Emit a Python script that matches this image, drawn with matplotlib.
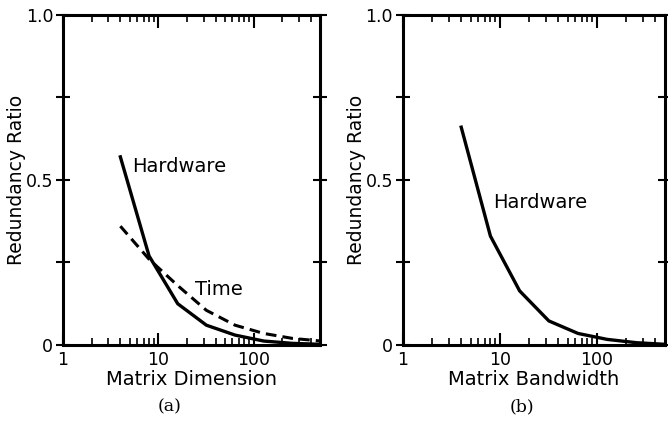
import numpy as np
import matplotlib
matplotlib.use("Agg")
import matplotlib.pyplot as plt
from matplotlib.ticker import LogLocator, NullFormatter, FixedLocator

# Matrix sizes (powers of two)
dimension = [4, 8, 16, 32, 64, 128, 256, 512]
hw_a = [0.57, 0.27, 0.125, 0.06, 0.03, 0.012, 0.005, 0.002]
time_a = [0.36, 0.26, 0.18, 0.105, 0.06, 0.035, 0.02, 0.012]

bandwidth = [4, 8, 16, 32, 64, 128, 256, 512]
hw_b = [0.66, 0.33, 0.164, 0.073, 0.035, 0.017, 0.007, 0.002]

x_ticks = [1, 10, 100]
x_tick_labels = ["1", "10", "100"]
y_ticks = [0, 0.5, 1.0]
y_tick_labels = ["0", "0.5", "1.0"]

plt.rcParams['font.family'] = ['DejaVu Sans']
fig = plt.figure(figsize=(6.68, 4.21), dpi=100)

ax_a = fig.add_axes([0.0943, 0.1805, 0.385, 0.784])
ax_b = fig.add_axes([0.603, 0.1805, 0.392, 0.784])


def style_axes(ax, xlabel):
    ax.set_xscale('log')
    ax.set_xlim(1, 500)
    ax.set_ylim(0, 1.0)
    for s in ax.spines.values():
        s.set_linewidth(2.2)
    ax.set_xticks(x_ticks)
    ax.set_xticklabels(x_tick_labels)
    ax.xaxis.set_minor_locator(LogLocator(base=10, subs=np.arange(2, 10)))
    ax.xaxis.set_minor_formatter(NullFormatter())
    ax.set_yticks(y_ticks)
    ax.set_yticklabels(y_tick_labels)
    ax.yaxis.set_minor_locator(FixedLocator([0.25, 0.75]))
    ax.tick_params(axis='x', which='major', direction='in', length=9, width=1.5,
                   top=True, labelsize=12.5, pad=4)
    ax.tick_params(axis='x', which='minor', direction='in', length=5, width=1.2,
                   top=True)
    ax.tick_params(axis='y', which='both', direction='inout', length=10, width=1.5,
                   right=True, labelsize=12.5, pad=2)
    ax.set_xlabel(xlabel, fontsize=14, labelpad=1)
    ax.set_ylabel("Redundancy Ratio", fontsize=13.5, labelpad=0)


# Panel (a)
ax_a.plot(dimension, hw_a, color='black', lw=2.4)
ax_a.plot(dimension, time_a, color='black', lw=2.2, ls=(0, (3.5, 2)))
style_axes(ax_a, "Matrix Dimension")
ax_a.text(5.3, 0.525, "Hardware", fontsize=14)
ax_a.text(24, 0.152, "Time", fontsize=14)
fig.text(0.2545, 0.022, "(a)", fontsize=12.5, family='DejaVu Serif', ha='center')

# Panel (b)
ax_b.plot(bandwidth, hw_b, color='black', lw=2.4)
style_axes(ax_b, "Matrix Bandwidth")
ax_b.text(8.6, 0.415, "Hardware", fontsize=14)
fig.text(0.781, 0.022, "(b)", fontsize=12.5, family='DejaVu Serif', ha='center')

fig.savefig("out.png", dpi=100)
